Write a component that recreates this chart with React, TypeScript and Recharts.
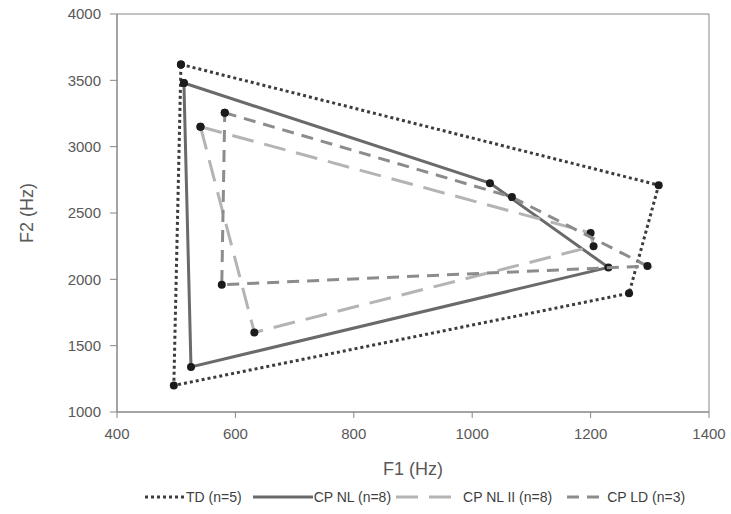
import React from "react";
import {
  ScatterChart,
  Scatter,
  XAxis,
  YAxis,
  ReferenceArea,
  Legend,
} from "recharts";

// vowel space vertices (F1, F2 in Hz), polygon gets closed in code
const tdF1 = [508, 1315, 1265, 496];
const tdF2 = [3620, 2710, 1895, 1200];

const nlF1 = [513, 1030, 1230, 525];
const nlF2 = [3480, 2725, 2090, 1340];

const nl2F1 = [541, 1200, 1205, 632];
const nl2F2 = [3150, 2350, 2250, 1600];

const ldF1 = [582, 1067, 1296, 577];
const ldF2 = [3256, 2620, 2100, 1960];

const seriesNames = ["TD (n=5)", "CP NL (n=8)", "CP NL II (n=8)", "CP LD (n=3)"];

const xTicks = [400, 600, 800, 1000, 1200, 1400];
const yTicks = [1000, 1500, 2000, 2500, 3000, 3500, 4000];

const styles = [
  { stroke: "#3c3c3c", dash: "3 3", sample: 40, gap: 11 },
  { stroke: "#6a6a6a", dash: undefined, sample: 60, gap: 5 },
  { stroke: "#b4b4b4", dash: "22 11", sample: 66, gap: 15 },
  { stroke: "#8c8c8c", dash: "12 8", sample: 39, gap: 0 },
];

const closed = (f1: number[], f2: number[]) => {
  const pts = f1.map((x, i) => ({ f1: x, f2: f2[i] }));
  return [...pts, pts[0]];
};

const series = [
  closed(tdF1, tdF2),
  closed(nlF1, nlF2),
  closed(nl2F1, nl2F2),
  closed(ldF1, ldF2),
];

const Marker = (props: any) => {
  const { cx, cy } = props;
  if (cx == null || cy == null) return null;
  return <circle cx={cx} cy={cy} r={4} fill="#1b1b1b" />;
};

const LegendBox = () => (
  <div
    style={{
      height: 24,
      display: "flex",
      justifyContent: "flex-start",
      alignItems: "center",
      fontFamily: "'Liberation Sans', Arial, sans-serif",
      fontSize: 14,
      color: "#404040",
      paddingLeft: 145,
    }}
  >
    {seriesNames.map((name, i) => (
      <span
        key={name}
        style={{ display: "flex", alignItems: "center", marginRight: styles[i].gap }}
      >
        <svg width={styles[i].sample} height={10} style={{ marginRight: 1 }}>
          <line
            x1={0}
            y1={5}
            x2={styles[i].sample}
            y2={5}
            stroke={styles[i].stroke}
            strokeWidth={3}
            strokeDasharray={styles[i].dash}
          />
        </svg>
        {name}
      </span>
    ))}
  </div>
);

export default function App() {
  return (
    <div style={{ width: 731, height: 514, background: "#fff" }}>
      <style>{`body{margin:0}`}</style>
      <ScatterChart
        width={731}
        height={514}
        margin={{ top: 14, right: 22, bottom: 5, left: 0 }}
      >
        <XAxis
          type="number"
          dataKey="f1"
          domain={[400, 1400]}
          ticks={xTicks}
          height={73}
          tickSize={6}
          tickMargin={10}
          stroke="#868686"
          tick={{ fill: "#595959", fontSize: 15, fontFamily: "'Liberation Sans', Arial" }}
          label={{
            value: "F1 (Hz)",
            position: "insideBottom",
            offset: 10,
            fill: "#595959",
            fontSize: 18,
            fontFamily: "'Liberation Sans', Arial",
          }}
        />
        <YAxis
          type="number"
          dataKey="f2"
          domain={[1000, 4000]}
          ticks={yTicks}
          width={117}
          tickSize={7}
          tickMargin={9}
          stroke="#868686"
          tick={{ fill: "#595959", fontSize: 15, fontFamily: "'Liberation Sans', Arial" }}
          label={{
            value: "F2 (Hz)",
            angle: -90,
            position: "center",
            dx: -32,
            fill: "#595959",
            fontSize: 18,
            fontFamily: "'Liberation Sans', Arial",
          }}
        />
        <ReferenceArea
          x1={400}
          x2={1400}
          y1={1000}
          y2={4000}
          fill="none"
          stroke="#868686"
          strokeWidth={1}
          ifOverflow="visible"
        />
        {series.map((data, i) => (
          <Scatter
            key={seriesNames[i]}
            name={seriesNames[i]}
            data={data}
            fill="#1b1b1b"
            line={{
              stroke: styles[i].stroke,
              strokeWidth: 3,
              strokeDasharray: styles[i].dash,
            }}
            shape={<Marker />}
            isAnimationActive={false}
          />
        ))}
        <Legend verticalAlign="bottom" content={<LegendBox />} />
      </ScatterChart>
    </div>
  );
}
